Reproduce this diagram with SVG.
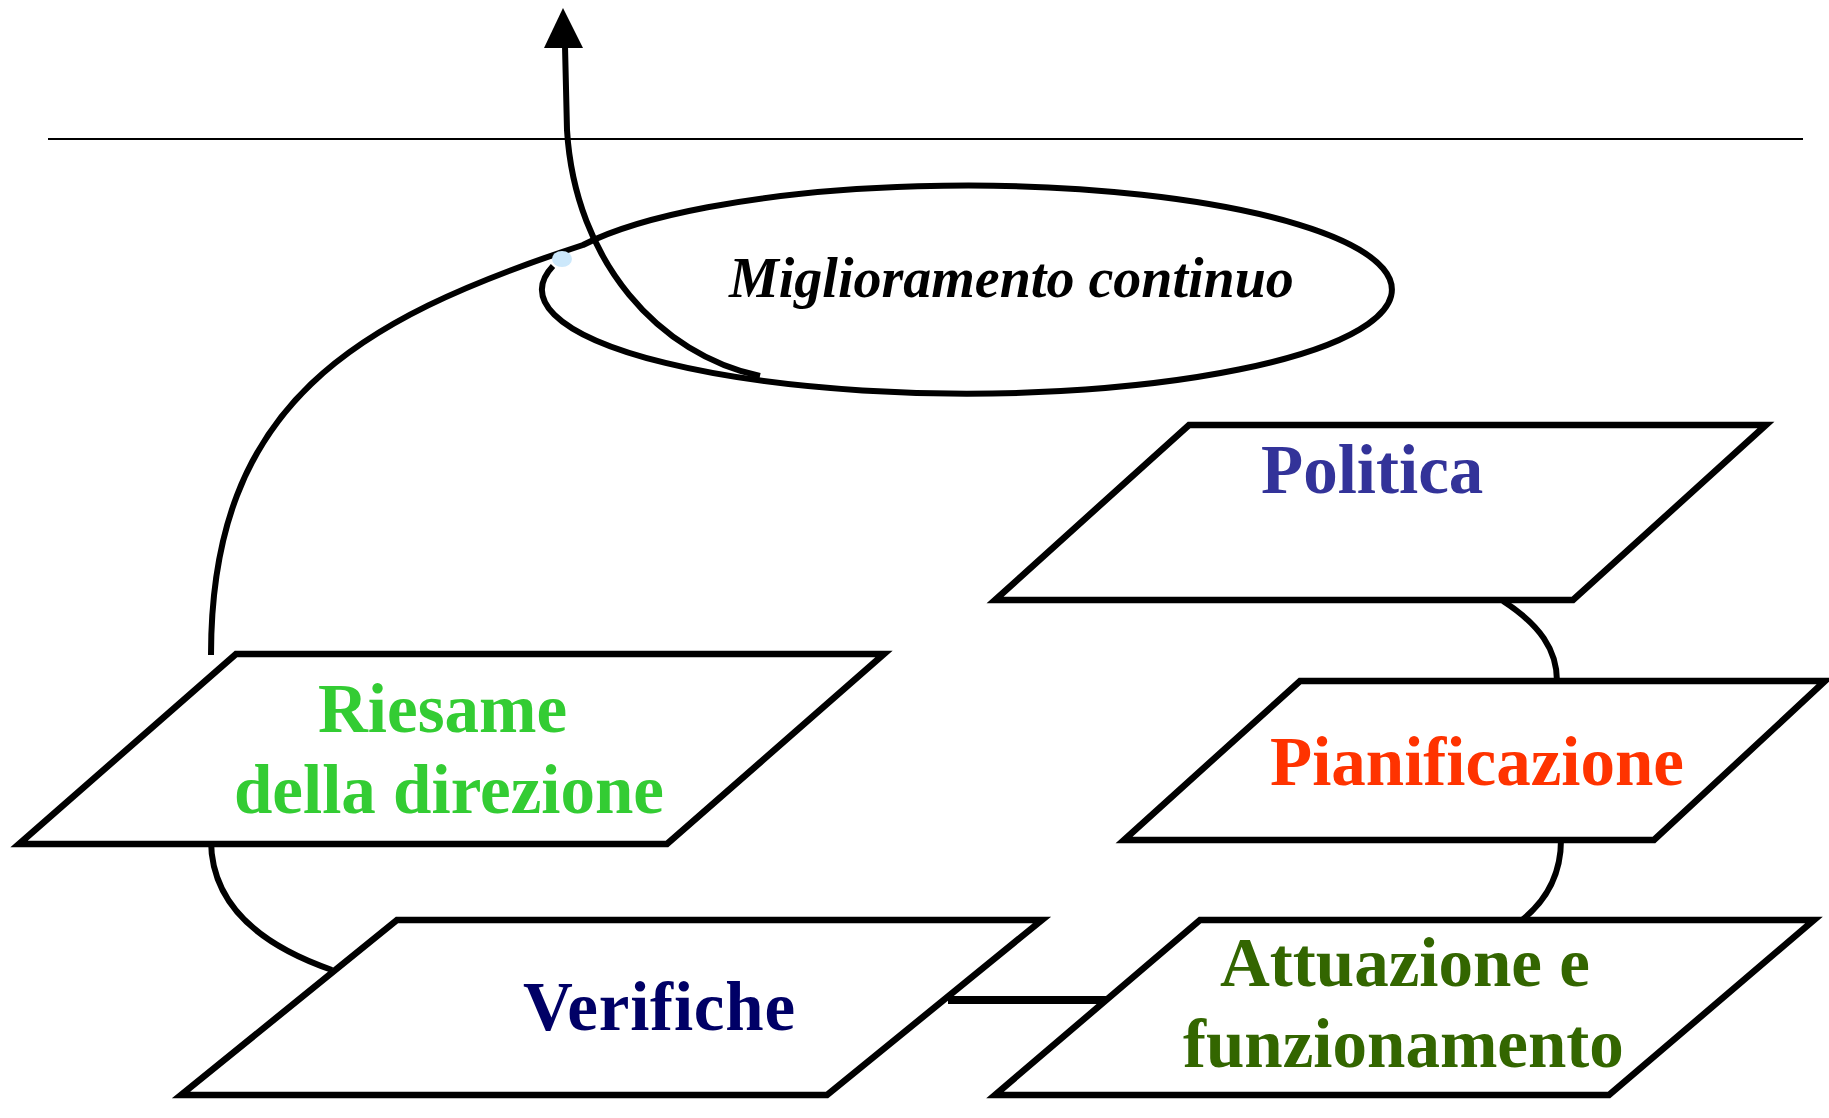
<svg xmlns="http://www.w3.org/2000/svg" width="1829" height="1118" viewBox="0 0 1829 1118">
<style>
.box{fill:#ffffff;stroke:#000000;stroke-width:6.5;stroke-linejoin:miter}
.lbl{font-family:"Liberation Serif","Times New Roman",serif;font-weight:bold;font-size:69px}
.con{fill:none;stroke:#000000;stroke-width:6}
</style>
<rect width="1829" height="1118" fill="#ffffff"/>
<line x1="48" y1="139" x2="1803" y2="139" stroke="#000" stroke-width="2"/>
<g id="connectors">
<path class="con" d="M 211 655 C 211 404, 354 320, 583 245 A 425 104 0 1 1 553 266"/>
<ellipse cx="562" cy="259" rx="10" ry="8" fill="#cce8fb"/>
<path class="con" stroke-width="7" d="M 760 376 C 660 355, 575 262, 567 130 L 565 46"/>
<polygon points="563,8 544,48 583,48" fill="#000"/>
<path class="con" d="M 1503 601 C 1540 625, 1557 650, 1557 681"/>
<path class="con" d="M 1561 840 C 1561 875, 1547 900, 1522 920"/>
<path class="con" d="M 211 840 C 211 905, 260 945, 332 970"/>
<line x1="948" y1="1000" x2="1124" y2="1000" stroke="#000" stroke-width="8"/>
</g>
<g id="miglioramento">
<text x="729" y="297" font-family="Liberation Serif, serif" font-weight="bold" font-style="italic" font-size="56">Miglioramento continuo</text>
</g>
<g id="politica">
<polygon class="box" points="1189,425 1766,425 1573,600 995,600"/>
<text class="lbl" x="1261" y="493" fill="#333399">Politica</text>
</g>
<g id="pianificazione">
<polygon class="box" points="1300,681 1825,681 1654,840 1124,840"/>
<text class="lbl" x="1270" y="785" fill="#ff3300">Pianificazione</text>
</g>
<g id="riesame">
<polygon class="box" points="236,654 884,654 667,844 19,844"/>
<text class="lbl" x="318" y="732" fill="#33cc33">Riesame</text>
<text class="lbl" x="234" y="813" fill="#33cc33">della direzione</text>
</g>
<g id="verifiche">
<polygon class="box" points="397,920 1042,920 827,1095 181,1095"/>
<text class="lbl" x="523" y="1030" fill="#000066" font-size="70" letter-spacing="0.8">Verifiche</text>
</g>
<g id="attuazione">
<polygon class="box" points="1200,920 1814,920 1609,1095 995,1095"/>
<text class="lbl" x="1220" y="986" fill="#336600">Attuazione e</text>
<text class="lbl" x="1183" y="1067" fill="#336600">funzionamento</text>
</g>
</svg>
